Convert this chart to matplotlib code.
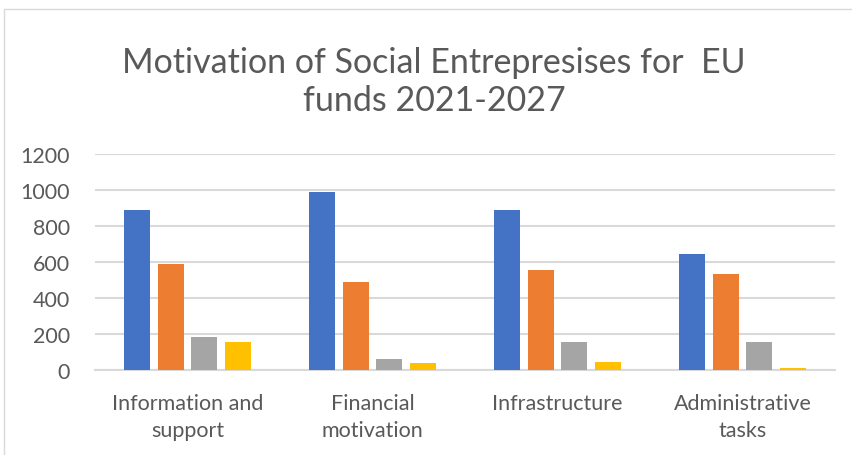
import matplotlib
matplotlib.use("Agg")
import matplotlib.pyplot as plt
import numpy as np
from matplotlib.patches import Rectangle

# categories and series
categories = ["Information and\nsupport", "Financial\nmotivation", "Infrastructure", "Administrative\ntasks"]
series_1 = [890, 990, 890, 643]
series_2 = [587, 488, 557, 534]
series_3 = [184, 63, 158, 155]
series_4 = [155, 42, 46, 13]
colors = ["#4472C4", "#ED7D31", "#A5A5A5", "#FFC000"]
yticks = [0, 200, 400, 600, 800, 1000, 1200]

plt.rcParams['font.family'] = ['Lato', 'DejaVu Sans']

fig = plt.figure(figsize=(8.52, 4.56), dpi=100)
# chart border
fig.patches.append(Rectangle((4/852, -0.1), 1.2, (456-10)/456 + 0.1,
                             transform=fig.transFigure, fill=False,
                             edgecolor="#d9d9d9", linewidth=1))
ax = fig.add_axes([95/852, (456-371.3)/456, 740/852, 216.6/456])

x = np.arange(len(categories))
w = 0.14
step = 0.181
all_series = [series_1, series_2, series_3, series_4]
for i, s in enumerate(all_series):
    ax.bar(x + (i - 1.5)*step, s, width=w, color=colors[i], zorder=3)

ax.set_xlim(-0.5, len(categories) - 0.5)
ax.set_ylim(0, 1200)
ax.set_yticks(yticks)
ax.set_yticklabels([str(t) for t in yticks], fontsize=15.5, color="#595959")
ax.set_xticks(x)
ax.set_xticklabels(categories, fontsize=15.5, color="#595959", linespacing=1.45)
ax.tick_params(axis='y', length=0, pad=18)
ax.tick_params(axis='x', length=0, pad=16)
ax.grid(axis='y', color="#d9d9d9", linewidth=1.5, zorder=0)
for sp in ["top", "right", "left"]:
    ax.spines[sp].set_visible(False)
ax.spines["bottom"].set_color("#d9d9d9")
ax.spines["bottom"].set_linewidth(1.5)

fig.text(434/852, 1 - 82/456, "Motivation of Social Entrepresises for  EU\nfunds 2021-2027",
         ha="center", va="center", fontsize=24.5, color="#595959", linespacing=1.25)

fig.savefig("out.png", dpi=100)
